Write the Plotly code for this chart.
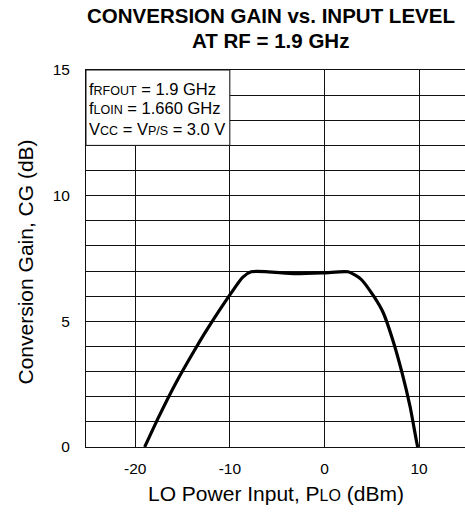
import plotly.graph_objects as go

# Data
lo_power_dbm = [-19.0, -17.5, -15.7, -13.5, -12.4, -10.0, -8.65, -7.75, -5.95, -3.1, 0.0, 2.5, 3.85, 5.2, 6.2, 7.2, 8.2, 9.05, 9.7, 9.85]
conv_gain_db = [0.0, 1.21, 2.55, 4.0, 4.68, 6.05, 6.75, 6.97, 6.97, 6.9, 6.93, 6.97, 6.68, 6.0, 5.35, 4.28, 2.95, 1.6, 0.28, 0.0]

x_ticks = [-20, -10, 0, 10]
y_ticks = list(range(0, 16))
y_ticktext = [str(v) if v % 5 == 0 else "" for v in y_ticks]

FONT = "Liberation Sans, Arial, sans-serif"

fig = go.Figure()
fig.add_trace(go.Scatter(
    x=lo_power_dbm, y=conv_gain_db, mode="lines",
    line=dict(color="black", width=3.2, shape="spline", smoothing=0.6),
    showlegend=False, hoverinfo="skip",
))

fig.update_layout(
    width=465, height=516,
    margin=dict(l=86, r=0, t=70, b=69),
    paper_bgcolor="white", plot_bgcolor="white",
    font=dict(family=FONT, color="black", size=16),
    xaxis=dict(
        range=[-25.2, 14.85], tickvals=x_ticks, ticktext=[str(v) for v in x_ticks],
        showgrid=True, gridcolor="#111", gridwidth=1, zeroline=False,
        showline=True, linecolor="#111", linewidth=1, mirror=True,
        ticks="", ticklabelstandoff=7, tickfont=dict(size=15.5),
    ),
    yaxis=dict(
        range=[0, 15], tickvals=y_ticks, ticktext=y_ticktext,
        showgrid=True, gridcolor="#111", gridwidth=1, zeroline=False,
        showline=True, linecolor="#111", linewidth=1,
        ticks="", ticklabelstandoff=12, tickfont=dict(size=15.5),
    ),
)

# Title (two lines)
fig.add_annotation(text="<b>CONVERSION GAIN vs. INPUT LEVEL</b>",
                   xref="paper", yref="paper", x=0.5, y=1, xshift=-5, yshift=55,
                   showarrow=False, font=dict(size=20.5, family=FONT),
                   xanchor="center", yanchor="middle")
fig.add_annotation(text="<b>AT RF = 1.9 GHz</b>",
                   xref="paper", yref="paper", x=0.5, y=1, xshift=-5, yshift=30,
                   showarrow=False, font=dict(size=20.5, family=FONT),
                   xanchor="center", yanchor="middle")

# Axis titles
fig.add_annotation(text="LO Power Input, P<span style='font-size:16px'>LO</span> (dBm)",
                   xref="paper", yref="paper", x=0.5, y=0, yshift=-46,
                   showarrow=False, font=dict(size=21, family=FONT),
                   xanchor="center", yanchor="middle")
fig.add_annotation(text="Conversion Gain, CG (dB)",
                   xref="paper", yref="paper", x=0, y=0.5, xshift=-61, yshift=-4,
                   textangle=-90, showarrow=False, font=dict(size=21, family=FONT),
                   xanchor="center", yanchor="middle")

# Condition box
fig.add_shape(type="rect", xref="x", yref="y", x0=-25.2, x1=-10, y0=12, y1=15,
              fillcolor="white", line=dict(color="#111", width=1), layer="above")
sm = "<span style='font-size:12.5px'>"
lines = [
    f"f{sm}RFOUT</span> = 1.9 GHz",
    f"f{sm}LOIN</span> = 1.660 GHz",
    f"V{sm}CC</span> = V{sm}P/S</span> = 3.0 V",
]
row_y = [14.26, 13.47, 12.67]
for t, yy in zip(lines, row_y):
    fig.add_annotation(text=t, xref="paper", yref="y", x=0, xshift=1, y=yy,
                       showarrow=False, xanchor="left", yanchor="middle",
                       font=dict(size=16.5, family=FONT))

fig.write_html("out.html", config={"displayModeBar": False},
               post_script="document.body.style.margin='0';")
